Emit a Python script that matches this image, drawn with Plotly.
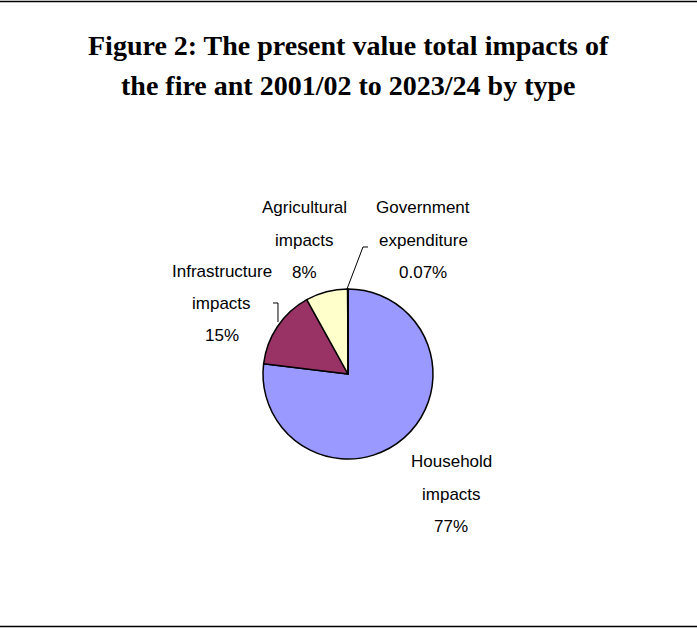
import plotly.graph_objects as go

# Data
categories = ["Household impacts", "Infrastructure impacts", "Agricultural impacts", "Government expenditure"]
shares = [77, 15, 8, 0.07]
share_labels = ["77%", "15%", "8%", "0.07%"]
label_lines = [["Household", "impacts"], ["Infrastructure", "impacts"],
               ["Agricultural", "impacts"], ["Government", "expenditure"]]
colors = ["#9999FF", "#993366", "#FFFFCC", "#CCFFFF"]

W, H = 697, 628

def px(x):
    return x / W

def py(y):
    return 1 - y / H

# pie geometry (pixels)
cx, cy, r = 348, 374, 85

fig = go.Figure(go.Pie(
    labels=categories,
    values=shares,
    sort=False,
    direction="clockwise",
    rotation=0,
    marker=dict(colors=colors, line=dict(color="black", width=1.5)),
    textinfo="none",
    hoverinfo="label+percent",
    showlegend=False,
    domain=dict(x=[px(cx - r), px(cx + r)], y=[py(cy + r), py(cy - r)]),
))

annotations = []
# title
title_lines = ["Figure 2: The present value total impacts of",
               "the fire ant 2001/02 to 2023/24 by type"]
for t, y in zip(title_lines, [46, 85]):
    annotations.append(dict(text="<b>%s</b>" % t, x=px(348), y=py(y), xref="paper", yref="paper",
                            xanchor="center", yanchor="middle", showarrow=False,
                            font=dict(family="Liberation Serif", size=28, color="black")))

# slice labels (centre x, first line y), line spacing ~32 px
label_pos = [(451, 462), (222, 271), (304, 208), (423, 208)]
for lines, pct, (lx, ly) in zip(label_lines, share_labels, label_pos):
    for i, t in enumerate(lines + [pct]):
        annotations.append(dict(text=t, x=px(lx), y=py(ly + i * 32), xref="paper", yref="paper",
                                xanchor="center", yanchor="middle", showarrow=False,
                                font=dict(family="Liberation Sans", size=17, color="black")))

shapes = [
    # frame lines top and bottom
    dict(type="line", xref="paper", yref="paper", x0=0, x1=1, y0=py(1.5), y1=py(1.5),
         line=dict(color="black", width=1.5)),
    dict(type="line", xref="paper", yref="paper", x0=0, x1=1, y0=py(626.5), y1=py(626.5),
         line=dict(color="black", width=1.5)),
    # leader lines
    dict(type="path", xref="paper", yref="paper",
         path="M %f %f L %f %f L %f %f" % (px(347), py(289), px(363), py(247), px(368), py(247)),
         line=dict(color="black", width=1)),
    dict(type="path", xref="paper", yref="paper",
         path="M %f %f L %f %f L %f %f" % (px(273), py(303), px(278), py(303), px(278), py(322)),
         line=dict(color="black", width=1)),
]

fig.update_layout(
    width=W, height=H,
    margin=dict(l=0, r=0, t=0, b=0),
    paper_bgcolor="white",
    plot_bgcolor="white",
    annotations=annotations,
    shapes=shapes,
)

fig.write_html("out.html", config={"displayModeBar": False},
               post_script="document.body.style.margin='0';document.body.style.overflow='hidden';")
